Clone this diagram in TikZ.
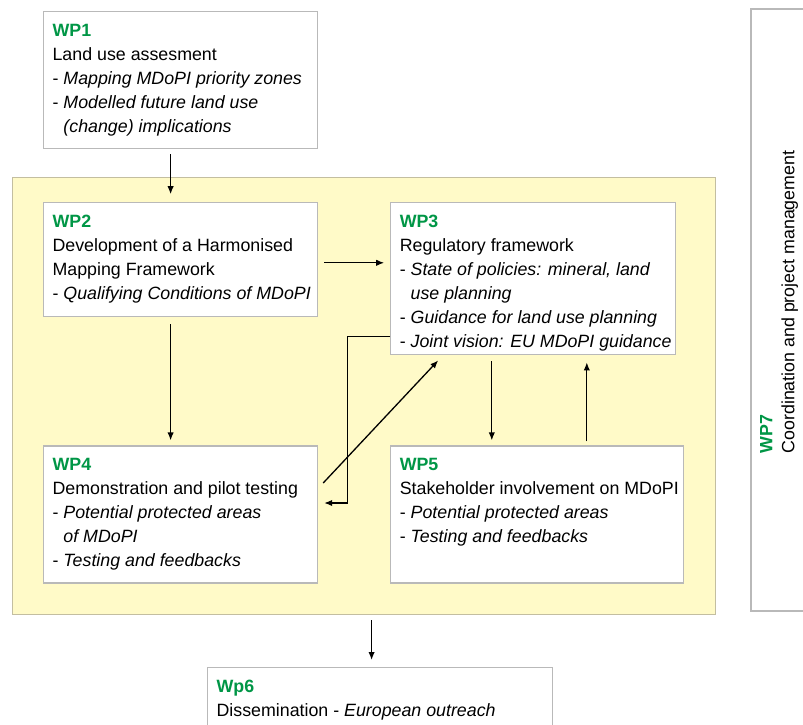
\documentclass[tikz,border=0pt]{standalone}
\usepackage{fontspec}
\setmainfont{Liberation Sans}
\usepackage{tikz}
\usetikzlibrary{positioning,arrows.meta}
\definecolor{wpgreen}{RGB}{0,150,70}
\definecolor{boxgrey}{RGB}{185,185,185}
\definecolor{corefill}{RGB}{255,250,200}
\definecolor{coreline}{RGB}{195,190,160}
\newcommand{\wptitle}[1]{\textcolor{wpgreen}{\bfseries #1}}
\newcommand{\wpbody}[3]{\parbox[t][#1][t]{#2}{\begin{tabular}[t]{@{}l@{}}#3\end{tabular}}}
\newcommand{\wpindent}{\hspace*{0.61em}}
\tikzset{%
  wpbox/.style={%
    draw=boxgrey,
    fill=white,
    line width=0.6pt,
    anchor=north west,
    inner xsep=4.5pt,
    inner ysep=4pt,
    font=\fontsize{8.9}{12}\selectfont%
  },
  corebox/.style={%
    draw=coreline,
    fill=corefill,
    line width=0.6pt,
    anchor=north west,
    minimum width=351.5pt,
    minimum height=218.5pt%
  },
  sidebox/.style={%
    wpbox,
    anchor=center,
    rotate=90,
    align=left,
    minimum width=301pt,
    minimum height=28pt,
    font=\fontsize{8.9}{11}\selectfont%
  },
  flow/.style={%
    -{Latex[length=4pt,width=3.2pt]},
    line width=0.65pt%
  }
}

\begin{document}
\begin{tikzpicture}[x=0.5pt, y=-0.5pt]
      \clip[use as bounding box] (0,0) rectangle (803,724);
      \node[corebox] (core) at (12,177) {};

      \node[wpbox] (wp1) at (43,11) {\wpbody{60.5pt}{128pt}{%
        \wptitle{WP1}\\
        Land use assesment\\
        - \textit{Mapping MDoPI priority zones}\\
        - \textit{Modelled future land use}\\
        \wpindent\textit{(change) implications}}};
      \node[wpbox, below = 26.5pt of wp1] (wp2) {\wpbody{49pt}{128pt}{%
        \wptitle{WP2}\\
        Development of a Harmonised\\
        Mapping Framework\\
        - \textit{Qualifying Conditions of MDoPI}}};
      \node[wpbox, right = 36pt of wp2.north east, anchor=north west] (wp3) {\wpbody{68pt}{133.5pt}{%
        \wptitle{WP3}\\
        Regulatory framework\\
        - \textit{State of policies: mineral, land}\\
        \wpindent\textit{use planning}\\
        - \textit{Guidance for land use planning}\\
        - \textit{Joint vision: EU MDoPI guidance}}};
      \node[wpbox, below = 64pt of wp2] (wp4) {\wpbody{60.5pt}{128pt}{%
        \wptitle{WP4}\\
        Demonstration and pilot testing\\
        - \textit{Potential protected areas}\\
        \wpindent\textit{of MDoPI}\\
        - \textit{Testing and feedbacks}}};
      \node[wpbox, below = 45pt of wp3.south west, anchor=north west] (wp5) {\wpbody{60.5pt}{137.5pt}{%
        \wptitle{WP5}\\
        Stakeholder involvement on MDoPI\\
        - \textit{Potential protected areas}\\
        - \textit{Testing and feedbacks}}};
      \node[wpbox] (wp6) at (207,667) {\wpbody{32pt}{163.5pt}{%
        \wptitle{Wp6}\\
        Dissemination - \textit{European outreach}}};

      \node[sidebox] (wp7) at (779,310) {\hspace*{8pt}\wptitle{WP7}\\
        \hspace*{8pt}Coordination and project management};

      \draw[flow, shorten <=2.5pt, shorten >=4pt] ([xshift=-5pt]wp1.south) -- ([xshift=-5pt]wp2.north);
      \draw[flow, shorten <=3pt, shorten >=3pt] ([yshift=-1.5pt]wp2.east) -- ([yshift=-1.5pt]wp2.east -| wp3.west);
      \draw[flow, shorten <=3.5pt, shorten >=2.5pt] ([xshift=-5pt]wp2.south) -- ([xshift=-5pt]wp4.north);
      \draw[flow, shorten <=3pt, shorten >=2.5pt] ([xshift=-20.75pt]wp3.south) -- ([xshift=-20.75pt]wp3.south |- wp5.north);
      \draw[flow, shorten <=2pt, shorten >=3.5pt] ([xshift=26.75pt]wp3.south |- wp5.north) -- ([xshift=26.75pt]wp3.south);
      \draw[flow] ([shift={(2.5pt,15.75pt)}]wp4.east) -- ([shift={(24pt,-2.5pt)}]wp3.south west);
      \draw[flow] ([yshift=9.5pt]wp3.south west) -| ([shift={(14.5pt,5.75pt)}]wp4.east)
        -- ([shift={(3pt,5.75pt)}]wp4.east);
      \draw[flow, shorten <=2.5pt, shorten >=3.5pt] ([xshift=3.75pt]core.south) -- ([xshift=3.75pt]core.south |- wp6.north);
\end{tikzpicture}
\end{document}
